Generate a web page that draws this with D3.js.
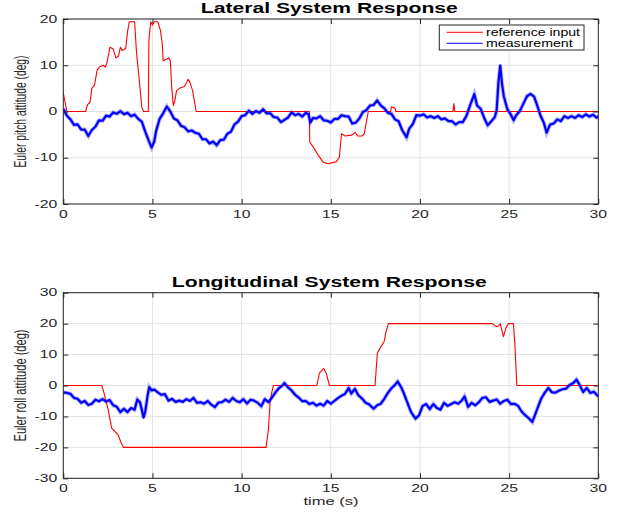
<!DOCTYPE html>
<html>
<head>
<meta charset="utf-8">
<script src="https://cdn.jsdelivr.net/npm/d3@7"></script>
<style>
  body { margin: 0; background: #fff; }
  svg { display: block; font-family: "Liberation Sans", Arial, Helvetica, sans-serif; }
</style>
</head>
<body>
<div id="chart"></div>
<script>
// --- data: [time (s), angle (deg)] ---
const seriesNames = ["reference input", "measurement"];
const xTicks = [0, 5, 10, 15, 20, 25, 30];
const lateralTicks = [-20, -10, 0, 10, 20];
const longitudinalTicks = [-30, -20, -10, 0, 10, 20, 30];

const lateralRef = [[0,4],[0.2,0],[1.25,0],[1.36,1.5],[1.5,2],[1.6,5],[1.75,5.7],[1.9,9],[2.05,9.7],[2.25,10],[2.35,9.6],[2.45,10.6],[2.62,13.9],[2.8,13.5],[2.95,11.6],[3.1,12],[3.2,13.9],[3.3,13.2],[3.5,13.6],[3.6,17.2],[3.7,19.4],[4.0,19.4],[4.1,13],[4.28,6],[4.4,1],[4.5,0],[4.77,0],[4.8,15.4],[4.9,19.4],[5.0,18.7],[5.1,19.4],[5.3,19.4],[5.45,17.5],[5.55,14.6],[5.6,11],[5.8,11.3],[5.9,11.6],[6.0,11],[6.08,5.2],[6.17,1.3],[6.26,2.4],[6.35,4.5],[6.55,5.1],[6.8,5.4],[7.0,7],[7.1,6.3],[7.25,4.5],[7.45,0],[13.8,0],[13.82,-6.6],[14.02,-7.7],[14.3,-9.5],[14.58,-11],[14.86,-11.3],[15.14,-11],[15.3,-10.9],[15.48,-9.9],[15.6,-4.8],[15.8,-5.3],[16.18,-5.1],[16.37,-4.5],[16.5,-5.3],[16.75,-5.3],[16.88,-4.8],[17.1,0],[18.35,0],[18.4,1],[18.6,0.7],[18.65,0],[21.85,0],[21.9,1.7],[21.95,0],[30,0]];

const lateralMeas = [[0,0.6],[0.2,-0.9],[0.4,-1.7],[0.6,-2.9],[0.8,-2.8],[1.0,-3.9],[1.2,-3.9],[1.4,-5.3],[1.6,-4.0],[1.8,-3.3],[2.0,-1.9],[2.2,-2.0],[2.4,-0.9],[2.6,-1.1],[2.8,-0.2],[3.0,-0.5],[3.2,0.1],[3.4,-0.6],[3.6,-0.3],[3.8,-1.0],[4.0,-0.7],[4.2,-1.6],[4.4,-2.2],[4.6,-4.4],[4.8,-6.4],[4.95,-7.8],[5.1,-6.5],[5.2,-4.3],[5.4,-1.6],[5.6,-0.4],[5.8,1.1],[6.0,0.0],[6.2,-1.5],[6.4,-1.9],[6.6,-3.1],[6.8,-3.4],[7.0,-4.3],[7.2,-4.1],[7.4,-4.6],[7.6,-4.8],[7.8,-6.0],[8.0,-6.0],[8.2,-6.9],[8.4,-6.5],[8.6,-7.3],[8.8,-6.2],[9.0,-6.1],[9.2,-4.8],[9.4,-4.4],[9.6,-2.8],[9.8,-2.2],[10.0,-1.0],[10.2,-0.8],[10.4,0.2],[10.6,-0.5],[10.8,0.1],[11.0,-0.3],[11.2,0.5],[11.4,-0.4],[11.6,-0.4],[11.8,-1.2],[12.0,-1.3],[12.2,-2.3],[12.4,-1.8],[12.6,-1.3],[12.8,-0.2],[13.0,-0.8],[13.2,-0.5],[13.4,-1.1],[13.6,-0.3],[13.75,-0.6],[13.85,-2.4],[14.0,-1.4],[14.2,-1.5],[14.4,-1.0],[14.6,-1.9],[14.8,-2.0],[15.0,-2.4],[15.2,-1.6],[15.4,-1.6],[15.6,-0.8],[15.8,-1.0],[16.0,-1.1],[16.2,-2.6],[16.4,-2.4],[16.6,-1.5],[16.8,-0.1],[17.0,0.3],[17.2,1.3],[17.4,1.4],[17.6,2.4],[17.8,1.3],[18.0,0.7],[18.2,-0.3],[18.4,-0.5],[18.6,-1.7],[18.8,-2.1],[19.0,-4.0],[19.25,-5.6],[19.4,-3.7],[19.6,-2.7],[19.8,-0.8],[20.0,-0.9],[20.2,-0.6],[20.4,-1.3],[20.6,-1.0],[20.8,-1.4],[21.0,-1.0],[21.2,-1.7],[21.4,-1.5],[21.6,-2.1],[21.8,-2.1],[22.0,-2.8],[22.2,-2.3],[22.4,-2.3],[22.6,-1.0],[22.8,1.2],[23.05,3.8],[23.2,1.3],[23.4,0.6],[23.6,-1.4],[23.8,-3.0],[24.0,-2.1],[24.2,-1.2],[24.3,0.3],[24.4,6.3],[24.5,10.0],[24.6,6.0],[24.7,3.3],[24.9,0.5],[25.1,-0.7],[25.25,-1.9],[25.4,-0.8],[25.6,0.1],[25.8,1.7],[26.0,3.3],[26.2,3.8],[26.4,3.2],[26.55,1.6],[26.75,-0.8],[26.95,-2.5],[27.1,-4.6],[27.3,-2.8],[27.5,-2.6],[27.7,-1.7],[27.9,-2.1],[28.1,-1.0],[28.3,-1.4],[28.5,-1.0],[28.7,-1.4],[28.9,-0.8],[29.1,-1.2],[29.3,-0.6],[29.5,-1.1],[29.7,-0.7],[29.9,-1.3],[30,-1.0]];

const longitudinalRef = [[0,0],[2.15,0],[2.24,-1.5],[2.52,-7.9],[2.71,-13.8],[2.9,-14.9],[3.08,-16],[3.22,-18.2],[3.37,-20],[11.37,-20],[11.5,-14.4],[11.59,-5.8],[11.68,-2.5],[11.78,0],[14.22,0],[14.36,4],[14.6,5.5],[14.75,3.9],[14.92,0],[17.48,0],[17.61,10.4],[17.76,12],[17.99,14.2],[18.1,17.4],[18.23,20],[24.05,20],[24.15,19.6],[24.3,19.0],[24.42,19.3],[24.5,20],[24.59,17.9],[24.68,15.8],[24.83,18.8],[24.96,20],[25.24,20],[25.33,12.5],[25.43,0],[30,0]];

const longitudinalMeas = [[0,-2.2],[0.2,-2.4],[0.4,-2.7],[0.6,-4.0],[0.8,-4.3],[1.0,-5.6],[1.2,-5.0],[1.4,-6.3],[1.6,-5.9],[1.8,-4.6],[2.0,-5.1],[2.2,-4.4],[2.4,-5.2],[2.6,-4.7],[2.8,-6.4],[3.0,-6.9],[3.2,-8.6],[3.4,-7.5],[3.6,-8.6],[3.8,-7.3],[4.0,-7.8],[4.15,-4.5],[4.3,-5.4],[4.4,-7.8],[4.5,-10.4],[4.6,-8.3],[4.72,-3.5],[4.82,-0.5],[4.95,-1.6],[5.1,-1.3],[5.3,-2.2],[5.5,-3.0],[5.7,-2.8],[5.9,-4.9],[6.1,-4.3],[6.3,-5.3],[6.5,-4.9],[6.7,-5.3],[6.9,-4.4],[7.1,-5.0],[7.3,-4.0],[7.5,-5.6],[7.7,-5.4],[7.9,-5.9],[8.1,-5.0],[8.3,-6.2],[8.5,-7.0],[8.7,-5.5],[8.9,-5.4],[9.1,-4.6],[9.3,-5.3],[9.5,-4.0],[9.7,-5.0],[9.9,-5.4],[10.1,-4.4],[10.3,-5.8],[10.5,-4.6],[10.7,-4.9],[10.9,-5.6],[11.1,-6.7],[11.3,-4.4],[11.5,-5.4],[11.7,-3.9],[11.9,-2.2],[12.1,-0.8],[12.25,-0.2],[12.4,0.8],[12.6,-0.6],[12.8,-1.6],[13.0,-3.0],[13.2,-3.9],[13.4,-5.1],[13.6,-5.0],[13.8,-6.0],[14.0,-5.6],[14.2,-6.5],[14.4,-5.9],[14.6,-6.5],[14.8,-5.0],[15.0,-5.9],[15.2,-5.0],[15.4,-4.1],[15.6,-3.3],[15.8,-2.7],[16.0,-0.8],[16.15,-2.6],[16.35,-1.1],[16.55,-3.2],[16.75,-4.2],[16.95,-5.6],[17.15,-6.1],[17.4,-7.5],[17.6,-6.4],[17.8,-5.9],[18.0,-4.3],[18.2,-2.4],[18.4,-0.9],[18.6,0.2],[18.75,1.3],[18.95,-0.6],[19.1,-2.6],[19.3,-5.6],[19.5,-8.6],[19.75,-10.7],[19.95,-9.6],[20.15,-6.6],[20.35,-6.0],[20.55,-7.6],[20.75,-6.0],[20.95,-7.3],[21.15,-7.8],[21.35,-5.6],[21.55,-6.6],[21.75,-6.0],[21.95,-5.4],[22.15,-5.9],[22.35,-4.8],[22.5,-3.5],[22.7,-6.9],[22.9,-5.6],[23.1,-6.4],[23.3,-5.4],[23.5,-4.0],[23.7,-3.8],[23.9,-5.3],[24.1,-4.9],[24.3,-4.5],[24.5,-5.9],[24.7,-5.0],[24.9,-4.6],[25.1,-6.0],[25.3,-5.9],[25.5,-6.6],[25.7,-8.4],[25.9,-9.6],[26.1,-10.6],[26.3,-11.8],[26.45,-9.5],[26.6,-7.2],[26.8,-4.2],[27.0,-2.3],[27.2,-0.8],[27.4,-2.2],[27.6,-2.3],[27.8,-1.6],[28.0,-1.2],[28.2,-1.0],[28.4,0.2],[28.6,0.8],[28.78,1.9],[28.95,0.2],[29.15,-2.1],[29.35,-0.8],[29.55,-2.4],[29.75,-2.0],[30,-3.6]];

// --- layout ---
const width = 621, height = 513;
const left = 63.3, right = 598.3;
const axisColor = "#262626", gridColor = "#e3e3e3";
const stretch = 1.5; // the figure is stretched sideways

const svg = d3.select("#chart").append("svg")
    .attr("width", width)
    .attr("height", height);

const x = d3.scaleLinear().domain([0, 30]).range([left, right]);

function stretchedText(parent, px, py, str, size, anchor) {
    return parent.append("g")
        .attr("transform", `translate(${px},${py}) scale(${stretch},1)`)
        .append("text")
        .attr("text-anchor", anchor)
        .style("font-size", size + "px")
        .attr("fill", axisColor)
        .text(str);
}

function panel(opts) {
    const y = d3.scaleLinear().domain(opts.yDomain).range([opts.bottom, opts.top]);
    const g = svg.append("g");
    const clipId = "clip" + opts.id;

    g.append("clipPath").attr("id", clipId)
        .append("rect")
        .attr("x", left).attr("y", opts.top)
        .attr("width", right - left).attr("height", opts.bottom - opts.top);

    // grid
    g.selectAll(".vgrid").data(xTicks).enter().append("line")
        .attr("x1", d => x(d)).attr("x2", d => x(d))
        .attr("y1", opts.top).attr("y2", opts.bottom)
        .attr("stroke", gridColor).attr("stroke-width", 1);
    g.selectAll(".hgrid").data(opts.yTicks).enter().append("line")
        .attr("x1", left).attr("x2", right)
        .attr("y1", d => y(d)).attr("y2", d => y(d))
        .attr("stroke", gridColor).attr("stroke-width", 1);

    // lines
    const line = d3.line().x(d => x(d[0])).y(d => y(d[1]));
    const lines = g.append("g").attr("clip-path", `url(#${clipId})`);
    lines.append("path").datum(opts.ref)
        .attr("d", line).attr("fill", "none")
        .attr("stroke", "#ff0000").attr("stroke-width", 1.1)
        .attr("stroke-linejoin", "round");
    // soft halo so the noisy measurement reads as a fuzzy band
    lines.append("path").datum(opts.meas)
        .attr("d", line).attr("fill", "none")
        .attr("stroke", "#0000ff").attr("stroke-width", 4)
        .attr("stroke-opacity", 0.3)
        .attr("stroke-linejoin", "miter");
    lines.append("path").datum(opts.meas)
        .attr("d", line).attr("fill", "none")
        .attr("stroke", "#0000ff").attr("stroke-width", 2.2)
        .attr("stroke-linejoin", "round");

    // inward ticks on all four sides
    const tickLen = 5;
    const axes = [
        d3.axisBottom(x).tickValues(xTicks),
        d3.axisTop(x).tickValues(xTicks),
        d3.axisLeft(y).tickValues(opts.yTicks),
        d3.axisRight(y).tickValues(opts.yTicks)
    ];
    const shifts = [`translate(0,${opts.bottom})`, `translate(0,${opts.top})`,
        `translate(${left},0)`, `translate(${right},0)`];
    axes.forEach((ax, i) => {
        const a = g.append("g").attr("transform", shifts[i])
            .call(ax.tickSizeInner(-tickLen).tickSizeOuter(0).tickFormat(""));
        a.select(".domain").remove();
        a.selectAll("line").attr("stroke", axisColor);
    });

    // tick labels
    xTicks.forEach(t => stretchedText(g, x(t), opts.bottom + 13.5, t, 10.5, "middle"));
    opts.yTicks.forEach(t => stretchedText(g, left - 6, y(t) + 3.7, t, 10.5, "end"));

    // box
    g.append("rect")
        .attr("x", left).attr("y", opts.top)
        .attr("width", right - left).attr("height", opts.bottom - opts.top)
        .attr("fill", "none").attr("stroke", axisColor).attr("stroke-width", 1);

    // title
    g.append("text")
        .attr("x", (left + right) / 2 - 1.5).attr("y", opts.titleY)
        .attr("text-anchor", "middle")
        .attr("textLength", opts.titleLen).attr("lengthAdjust", "spacingAndGlyphs")
        .style("font-size", "14px").style("font-weight", "bold")
        .attr("fill", "#000").text(opts.title);

    // y label
    g.append("g")
        .attr("transform", `translate(26,${(opts.top + opts.bottom) / 2}) scale(${stretch},1) rotate(-90)`)
        .append("text")
        .attr("text-anchor", "middle")
        .attr("textLength", 112).attr("lengthAdjust", "spacingAndGlyphs")
        .style("font-size", "10.5px")
        .attr("fill", axisColor)
        .text(opts.yLabel);

    return g;
}

panel({
    id: "top", top: 19, bottom: 204, yDomain: [-20, 20], yTicks: lateralTicks,
    ref: lateralRef, meas: lateralMeas,
    title: "Lateral System Response", titleY: 13.3, titleLen: 257,
    yLabel: "Euler pitch attitude (deg)"
});

panel({
    id: "bottom", top: 292.7, bottom: 478.3, yDomain: [-30, 30], yTicks: longitudinalTicks,
    ref: longitudinalRef, meas: longitudinalMeas,
    title: "Longitudinal System Response", titleY: 287, titleLen: 315,
    yLabel: "Euler roll attitude (deg)"
});

// x label
svg.append("text")
    .attr("x", 331).attr("y", 505)
    .attr("text-anchor", "middle")
    .attr("textLength", 55).attr("lengthAdjust", "spacingAndGlyphs")
    .style("font-size", "11px")
    .attr("fill", axisColor)
    .text("time (s)");

// legend
const legend = svg.append("g");
legend.append("rect")
    .attr("x", 439.3).attr("y", 25)
    .attr("width", 144.7).attr("height", 25)
    .attr("fill", "#fff").attr("stroke", axisColor).attr("stroke-width", 1);
const legendColors = ["#ff0000", "#0000ff"];
const legendLens = [94, 86.7];
seriesNames.forEach((name, i) => {
    const ly = 32.3 + i * 11;
    legend.append("line")
        .attr("x1", 446.7).attr("x2", 482.7)
        .attr("y1", ly).attr("y2", ly)
        .attr("stroke", legendColors[i]).attr("stroke-width", 1);
    legend.append("text")
        .attr("x", 486).attr("y", ly + 3.3)
        .attr("textLength", legendLens[i]).attr("lengthAdjust", "spacingAndGlyphs")
        .style("font-size", "10.5px")
        .attr("fill", "#000")
        .text(name);
});
</script>
</body>
</html>
